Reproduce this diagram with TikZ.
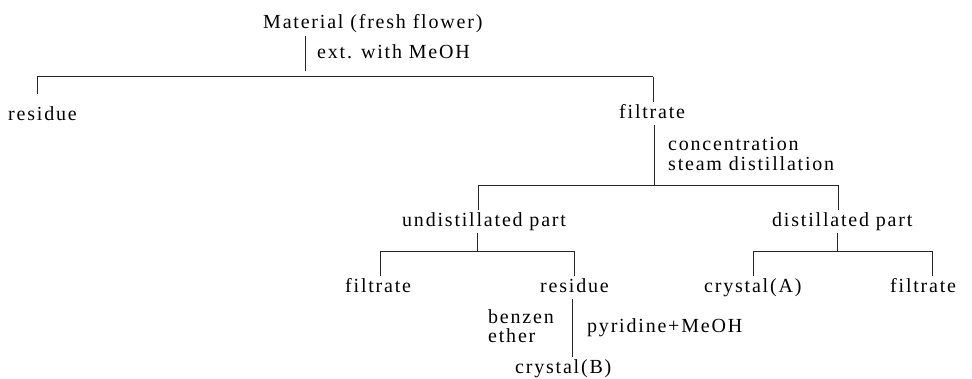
\documentclass[tikz,border=0pt]{standalone}
\usepackage{fontspec}
\setmainfont{Liberation Serif}[LetterSpace=9]
\begin{document}
\begin{tikzpicture}[x=1pt,y=-1pt,
  lbl/.style={anchor=base west, inner xsep=0pt, inner ysep=3pt,
    text height=13pt, text depth=4pt, font=\fontsize{20}{23}\selectfont},
  ln/.style={line width=0.9pt, draw=black!85}]
\useasboundingbox (0,0) rectangle (972,378);
% texts
\node[lbl] (mat)   at (263,28.5) {Material (fresh flower)};
\node[lbl] (ext)   at (317,58)   {ext. with MeOH};
\node[lbl] (res1)  at (8,120)    {residue};
\node[lbl] (fil1)  at (619,118)  {filtrate};
\node[lbl] (conc)  at (668,150)  {concentration};
\node[lbl] (steam) at (668,170)  {steam distillation};
\node[lbl] (und)   at (402,226)  {undistillated part};
\node[lbl] (dis)   at (772,226)  {distillated part};
\node[lbl] (fil2)  at (345,292)  {filtrate};
\node[lbl] (res2)  at (540,292)  {residue};
\node[lbl] (cryA)  at (704,292)  {crystal(A)};
\node[lbl] (fil3)  at (890,292)  {filtrate};
\node[lbl] (benz)  at (488,323)  {benzen};
\node[lbl] (eth)   at (488,342)  {ether};
\node[lbl] (pyr)   at (587,332)  {pyridine+MeOH};
\node[lbl] (cryB)  at (515,373)  {crystal(B)};
% bar coordinates
\coordinate (b1l) at (37,76.5);
\coordinate (b1m) at (305,76.5);
\coordinate (b1r) at (653,76.5);
\coordinate (b2l) at (478,185);
\coordinate (b2m) at (654,185);
\coordinate (b2r) at (838,185);
\coordinate (b3l) at (380,251);
\coordinate (b3m) at (477,251);
\coordinate (b3r) at (574,251);
\coordinate (b4l) at (753,251);
\coordinate (b4m) at (837,251);
\coordinate (b4r) at (932,251);
\coordinate (rx)  at (572,300);
% connectors
\draw[ln, shorten >=6pt] (mat.south -| b1m) -- (b1m);
\draw[ln] (b1l) -- (b1r);
\draw[ln, shorten >=10pt] (b1l) -- (res1.north -| b1l);
\draw[ln] (b1r) -- (fil1.north -| b1r);
\draw[ln] (fil1.south -| b2m) -- (b2m);
\draw[ln] (b2l) -- (b2r);
\draw[ln] (b2l) -- (und.north -| b2l);
\draw[ln] (b2r) -- (dis.north -| b2r);
\draw[ln] (und.south -| b3m) -- (b3m);
\draw[ln] (b3l) -- (b3r);
\draw[ln] (b3l) -- (fil2.north -| b3l);
\draw[ln] (b3r) -- (res2.north -| b3r);
\draw[ln] (dis.south -| b4m) -- (b4m);
\draw[ln] (b4l) -- (b4r);
\draw[ln] (b4l) -- (cryA.north -| b4l);
\draw[ln] (b4r) -- (fil3.north -| b4r);
\draw[ln] (res2.south -| rx) -- (cryB.north -| rx);
\end{tikzpicture}
\end{document}
